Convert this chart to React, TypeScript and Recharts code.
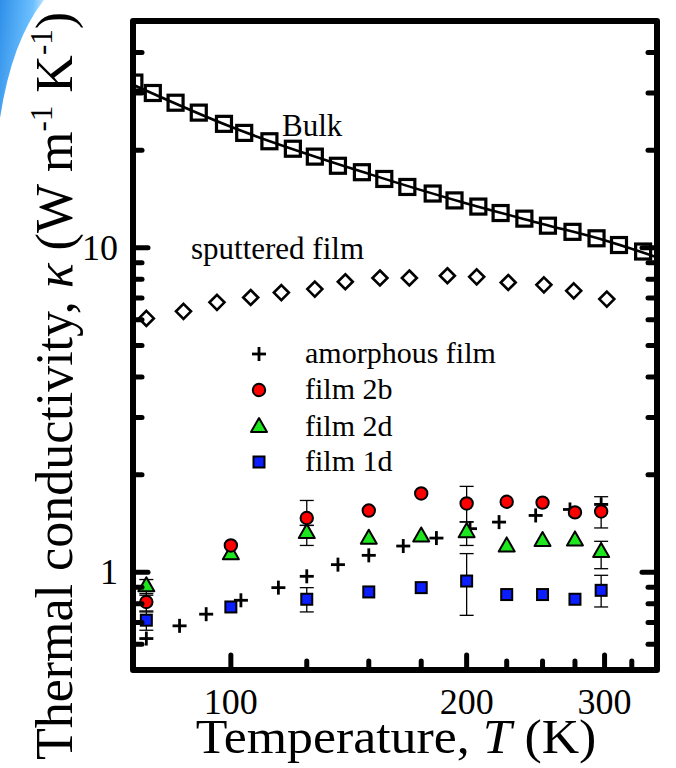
import React from 'react';
import {
  ComposedChart,
  Scatter,
  Line,
  XAxis,
  YAxis,
  ErrorBar,
  ReferenceArea,
  ReferenceDot,
} from 'recharts';

const FONT = "'Liberation Serif', 'Times New Roman', Times, serif";

// ---------- data ----------
const bulkT = [75.3, 79.5, 85, 91, 98, 104, 112, 120, 128, 137, 147, 157, 168, 181, 193, 207, 221, 237, 254, 273, 293, 313, 336];
const bulkK = [32.3, 30.0, 28.0, 26.1, 24.1, 22.6, 21.3, 20.2, 19.1, 17.9, 17.1, 16.3, 15.4, 14.7, 14.0, 13.4, 12.8, 12.3, 11.7, 11.2, 10.7, 10.2, 9.74];

const bulkFitT = [75, 100, 150, 200, 250, 300, 350];
const bulkFitK = [31.8, 23.6, 16.9, 13.7, 11.85, 10.55, 9.35];

const sputT = [78, 87, 96, 106, 116, 128, 140, 155, 169, 189, 206, 226, 251, 274, 302];
const sputK = [6.06, 6.37, 6.79, 7.03, 7.28, 7.46, 7.86, 8.07, 8.07, 8.2, 8.14, 7.82, 7.69, 7.37, 6.95];

const amorphT = [78, 86, 93, 103, 115, 125, 137, 150, 166, 183, 202, 220, 245, 271, 297];
const amorphK = [0.625, 0.684, 0.743, 0.82, 0.897, 0.972, 1.056, 1.128, 1.205, 1.275, 1.363, 1.428, 1.497, 1.562, 1.619];

const filmT = [78, 100, 125, 150, 175, 200, 225, 250, 275, 297];
const film2b = [0.81, 1.21, 1.47, 1.55, 1.75, 1.63, 1.65, 1.64, 1.53, 1.54];
const film2bLo = [0.76, null, 1.395, null, null, 1.43, null, null, null, 1.37];
const film2bHi = [0.86, null, 1.665, null, null, 1.84, null, null, null, 1.71];
const film2d = [0.906, 1.136, 1.321, 1.269, 1.29, 1.33, 1.202, 1.249, 1.254, 1.155];
const film2dLo = [0.85, null, 1.21, null, null, 1.21, null, null, null, 1.026];
const film2dHi = [0.95, null, 1.395, null, null, 1.43, null, null, null, 1.246];
const film1d = [0.712, 0.782, 0.826, 0.87, 0.897, 0.94, 0.854, 0.854, 0.826, 0.88];
const film1dLo = [0.663, null, 0.755, null, null, 0.737, null, null, null, 0.782];
const film1dHi = [0.755, null, 0.897, null, null, 1.142, null, null, null, 0.979];

const xTicks = [100, 125, 150, 175, 200, 225, 250, 275, 300, 325];
const xMajor = [100, 200, 300];
const yTicks = [0.6, 0.7, 0.8, 0.9, 1, 2, 3, 4, 5, 6, 7, 8, 9, 10, 20, 30, 40];
const yMajor = [1, 10];

const legendNames = ['amorphous film', 'film 2b', 'film 2d', 'film 1d'];

// ---------- derived tables ----------
const pairs = (xs: number[], ys: number[]) => xs.map((T, i) => ({ T, k: ys[i] }));
const withErr = (xs: number[], ys: number[], lo: (number | null)[], hi: (number | null)[]) =>
  xs.map((T, i) => ({
    T,
    k: ys[i],
    err: lo[i] != null && hi[i] != null ? [ys[i] - (lo[i] as number), (hi[i] as number) - ys[i]] : undefined,
  }));

const bulkData = pairs(bulkT, bulkK);
const bulkFitData = pairs(bulkFitT, bulkFitK);
const sputData = pairs(sputT, sputK);
const amorphData = pairs(amorphT, amorphK);
const f2bData = withErr(filmT, film2b, film2bLo, film2bHi);
const f2dData = withErr(filmT, film2d, film2dLo, film2dHi);
const f1dData = withErr(filmT, film1d, film1dLo, film1dHi);

const RED = '#ff0000';
const GREEN = '#1ee61e';
const BLUE = '#0a1eff';

// ---------- marker shapes ----------
const OpenSquare = (p: any) => (
  <rect x={p.cx - 7.5} y={p.cy - 7.5} width={15} height={15} fill="none" stroke="#000" strokeWidth={3.2} />
);
const OpenDiamond = (p: any) => (
  <path
    d={`M${p.cx},${p.cy - 7.5} L${p.cx + 7.5},${p.cy} L${p.cx},${p.cy + 7.5} L${p.cx - 7.5},${p.cy} Z`}
    fill="#fff"
    stroke="#000"
    strokeWidth={2.6}
  />
);
const PlusMark = (p: any) => (
  <g stroke="#000" strokeWidth={2.8}>
    <line x1={p.cx - 7} x2={p.cx + 7} y1={p.cy} y2={p.cy} />
    <line x1={p.cx} x2={p.cx} y1={p.cy - 7} y2={p.cy + 7} />
  </g>
);
const RedCircle = (p: any) => <circle cx={p.cx} cy={p.cy} r={6.2} fill={RED} stroke="#000" strokeWidth={2} />;
const GreenTriangle = (p: any) => (
  <path
    d={`M${p.cx},${p.cy - 9} L${p.cx + 8},${p.cy + 5} L${p.cx - 8},${p.cy + 5} Z`}
    fill={GREEN}
    stroke="#000"
    strokeWidth={2}
    strokeLinejoin="round"
  />
);
const BlueSquare = (p: any) => (
  <rect x={p.cx - 5.5} y={p.cy - 5.5} width={11} height={11} fill={BLUE} stroke="#000" strokeWidth={2} />
);

// ---------- ticks ----------
const TICK_W = 5;
const BottomTick = (props: any) => {
  const { x, y, payload } = props;
  const v = payload.value;
  const major = xMajor.includes(v);
  return (
    <g>
      <line x1={x} x2={x} y1={y} y2={y - (major ? 15 : 9)} stroke="#000" strokeWidth={TICK_W} strokeLinecap="round" />
      {major && (
        <text x={x} y={y + 44} textAnchor="middle" fontSize={36} fontFamily={FONT} fill="#000">
          {v}
        </text>
      )}
    </g>
  );
};
const TopTick = (props: any) => {
  const { x, y, payload } = props;
  const major = xMajor.includes(payload.value);
  return <line x1={x} x2={x} y1={y} y2={y + (major ? 15 : 9)} stroke="#000" strokeWidth={TICK_W} strokeLinecap="round" />;
};
const LeftTick = (props: any) => {
  const { x, y, payload } = props;
  const v = payload.value;
  const major = yMajor.includes(v);
  return (
    <g>
      <line x1={x} x2={x + (major ? 15 : 9)} y1={y} y2={y} stroke="#000" strokeWidth={TICK_W} strokeLinecap="round" />
      {major && (
        <text x={x - 15} y={y + 12} textAnchor="end" fontSize={36} fontFamily={FONT} fill="#000">
          {v}
        </text>
      )}
    </g>
  );
};
const RightTick = (props: any) => {
  const { x, y, payload } = props;
  const major = yMajor.includes(payload.value);
  return <line x1={x} x2={x - (major ? 15 : 9)} y1={y} y2={y} stroke="#000" strokeWidth={TICK_W} strokeLinecap="round" />;
};

// ---------- labels ----------
const XTitle = (props: any) => {
  const vb = props.viewBox || { x: 133, y: 670, width: 524 };
  const cx = vb.x + vb.width / 2 + 1;
  const by = vb.y + 83;
  return (
    <text
      x={0}
      y={0}
      transform={`translate(${cx}, ${by}) scale(1.08, 1)`}
      textAnchor="middle"
      fontSize={48}
      fontFamily={FONT}
      fill="#000"
    >
      Temperature, <tspan fontStyle="italic">T</tspan> (K)
    </text>
  );
};
const YTitle = (props: any) => {
  const vb = props.viewBox || { x: 132, y: 21 };
  const x = vb.x - 60;
  const y = vb.y + 365;
  return (
    <text
      x={x}
      y={y}
      transform={`rotate(-90, ${x}, ${y})`}
      textAnchor="middle"
      fontSize={52}
      fontFamily={FONT}
      fill="#000"
    >
      Thermal conductivity, <tspan fontStyle="italic">κ</tspan> (W m
      <tspan fontSize={31} dy={-20}>-1</tspan>
      <tspan dy={20}> K</tspan>
      <tspan fontSize={31} dy={-20}>-1</tspan>
      <tspan dy={20}>)</tspan>
    </text>
  );
};
const Annot = (props: any) => {
  const vb = props.viewBox || { x: 0, y: 0 };
  return (
    <text x={vb.x} y={vb.y + 11} textAnchor="middle" fontSize={31} fontFamily={FONT} fill="#000">
      {props.text}
    </text>
  );
};

const Frame = (p: any) => (
  <rect
    x={p.x}
    y={p.y}
    width={p.width}
    height={p.height}
    fill="none"
    stroke="#000"
    strokeWidth={6}
    strokeLinejoin="round"
  />
);

const legendShapes = [PlusMark, RedCircle, GreenTriangle, BlueSquare];
const legendRowsY = [354, 390, 427, 462];

export default function App() {
  return (
    <div style={{ position: 'absolute', left: 0, top: 0, width: 676, height: 768, background: '#fff', overflow: 'hidden' }}>
      <ComposedChart width={676} height={768} margin={{ top: 20, right: 18, bottom: 97, left: 132 }}>
        <XAxis
          xAxisId="b"
          dataKey="T"
          type="number"
          scale="log"
          domain={[75, 350]}
          allowDataOverflow
          ticks={xTicks}
          interval={0}
          tick={<BottomTick />}
          tickLine={false}
          axisLine={false}
          tickSize={0}
          tickMargin={0}
          height={1}
          orientation="bottom"
          label={<XTitle />}
        />
        <XAxis
          xAxisId="t"
          type="number"
          scale="log"
          domain={[75, 350]}
          allowDataOverflow
          ticks={xTicks}
          interval={0}
          tick={<TopTick />}
          tickLine={false}
          axisLine={false}
          tickSize={0}
          tickMargin={0}
          height={1}
          orientation="top"
        />
        <YAxis
          yAxisId="l"
          dataKey="k"
          type="number"
          scale="log"
          domain={[0.5, 50]}
          allowDataOverflow
          ticks={yTicks}
          interval={0}
          tick={<LeftTick />}
          tickLine={false}
          axisLine={false}
          tickSize={0}
          tickMargin={0}
          width={1}
          orientation="left"
          label={<YTitle />}
        />
        <YAxis
          yAxisId="r"
          type="number"
          scale="log"
          domain={[0.5, 50]}
          allowDataOverflow
          ticks={yTicks}
          interval={0}
          tick={<RightTick />}
          tickLine={false}
          axisLine={false}
          tickSize={0}
          tickMargin={0}
          width={1}
          orientation="right"
        />

        <Line
          xAxisId="b"
          yAxisId="l"
          data={bulkFitData}
          dataKey="k"
          type="monotone"
          stroke="#000"
          strokeWidth={2.6}
          dot={false}
          activeDot={false}
          isAnimationActive={false}
        />
        <Scatter xAxisId="b" yAxisId="l" name="Bulk" data={bulkData} dataKey="k" shape={OpenSquare} isAnimationActive={false} />
        <Scatter xAxisId="b" yAxisId="l" name="sputtered film" data={sputData} dataKey="k" shape={OpenDiamond} isAnimationActive={false} />
        <Scatter xAxisId="b" yAxisId="l" name="amorphous film" data={amorphData} dataKey="k" shape={PlusMark} isAnimationActive={false} />
        <Scatter xAxisId="b" yAxisId="l" name="film 1d" data={f1dData} dataKey="k" shape={BlueSquare} isAnimationActive={false}>
          <ErrorBar dataKey="err" direction="y" width={7} stroke="#000" strokeWidth={1.3} isAnimationActive={false} />
        </Scatter>
        <Scatter xAxisId="b" yAxisId="l" name="film 2d" data={f2dData} dataKey="k" shape={GreenTriangle} isAnimationActive={false}>
          <ErrorBar dataKey="err" direction="y" width={7} stroke="#000" strokeWidth={1.3} isAnimationActive={false} />
        </Scatter>
        <Scatter xAxisId="b" yAxisId="l" name="film 2b" data={f2bData} dataKey="k" shape={RedCircle} isAnimationActive={false}>
          <ErrorBar dataKey="err" direction="y" width={7} stroke="#000" strokeWidth={1.3} isAnimationActive={false} />
        </Scatter>

        <ReferenceDot xAxisId="b" yAxisId="l" x={127} y={23.9} r={0} fill="none" stroke="none" label={<Annot text="Bulk" />} />
        <ReferenceDot xAxisId="b" yAxisId="l" x={114.7} y={10} r={0} fill="none" stroke="none" label={<Annot text="sputtered film" />} />

        <ReferenceArea xAxisId="b" yAxisId="l" x1={75} x2={350} y1={0.5} y2={50} shape={<Frame />} ifOverflow="visible" />
      </ComposedChart>

      <svg width={676} height={768} style={{ position: 'absolute', left: 0, top: 0, pointerEvents: 'none' }}>
        <defs>
          <linearGradient id="swoosh" x1="0" y1="0" x2="1" y2="0.3">
            <stop offset="0" stopColor="#2f8fe8" />
            <stop offset="0.7" stopColor="#6cc0ff" />
            <stop offset="1" stopColor="#d8f0ff" />
          </linearGradient>
        </defs>
        <path d="M0,0 L44,0 Q12,40 0,118 Z" fill="url(#swoosh)" />
        {legendNames.map((name, i) => {
          const Shape = legendShapes[i];
          const cy = legendRowsY[i];
          return (
            <g key={name}>
              <Shape cx={259} cy={cy} />
              <text x={305} y={cy + 9} fontSize={30} fontFamily={FONT} fill="#000">
                {name}
              </text>
            </g>
          );
        })}
      </svg>
    </div>
  );
}
